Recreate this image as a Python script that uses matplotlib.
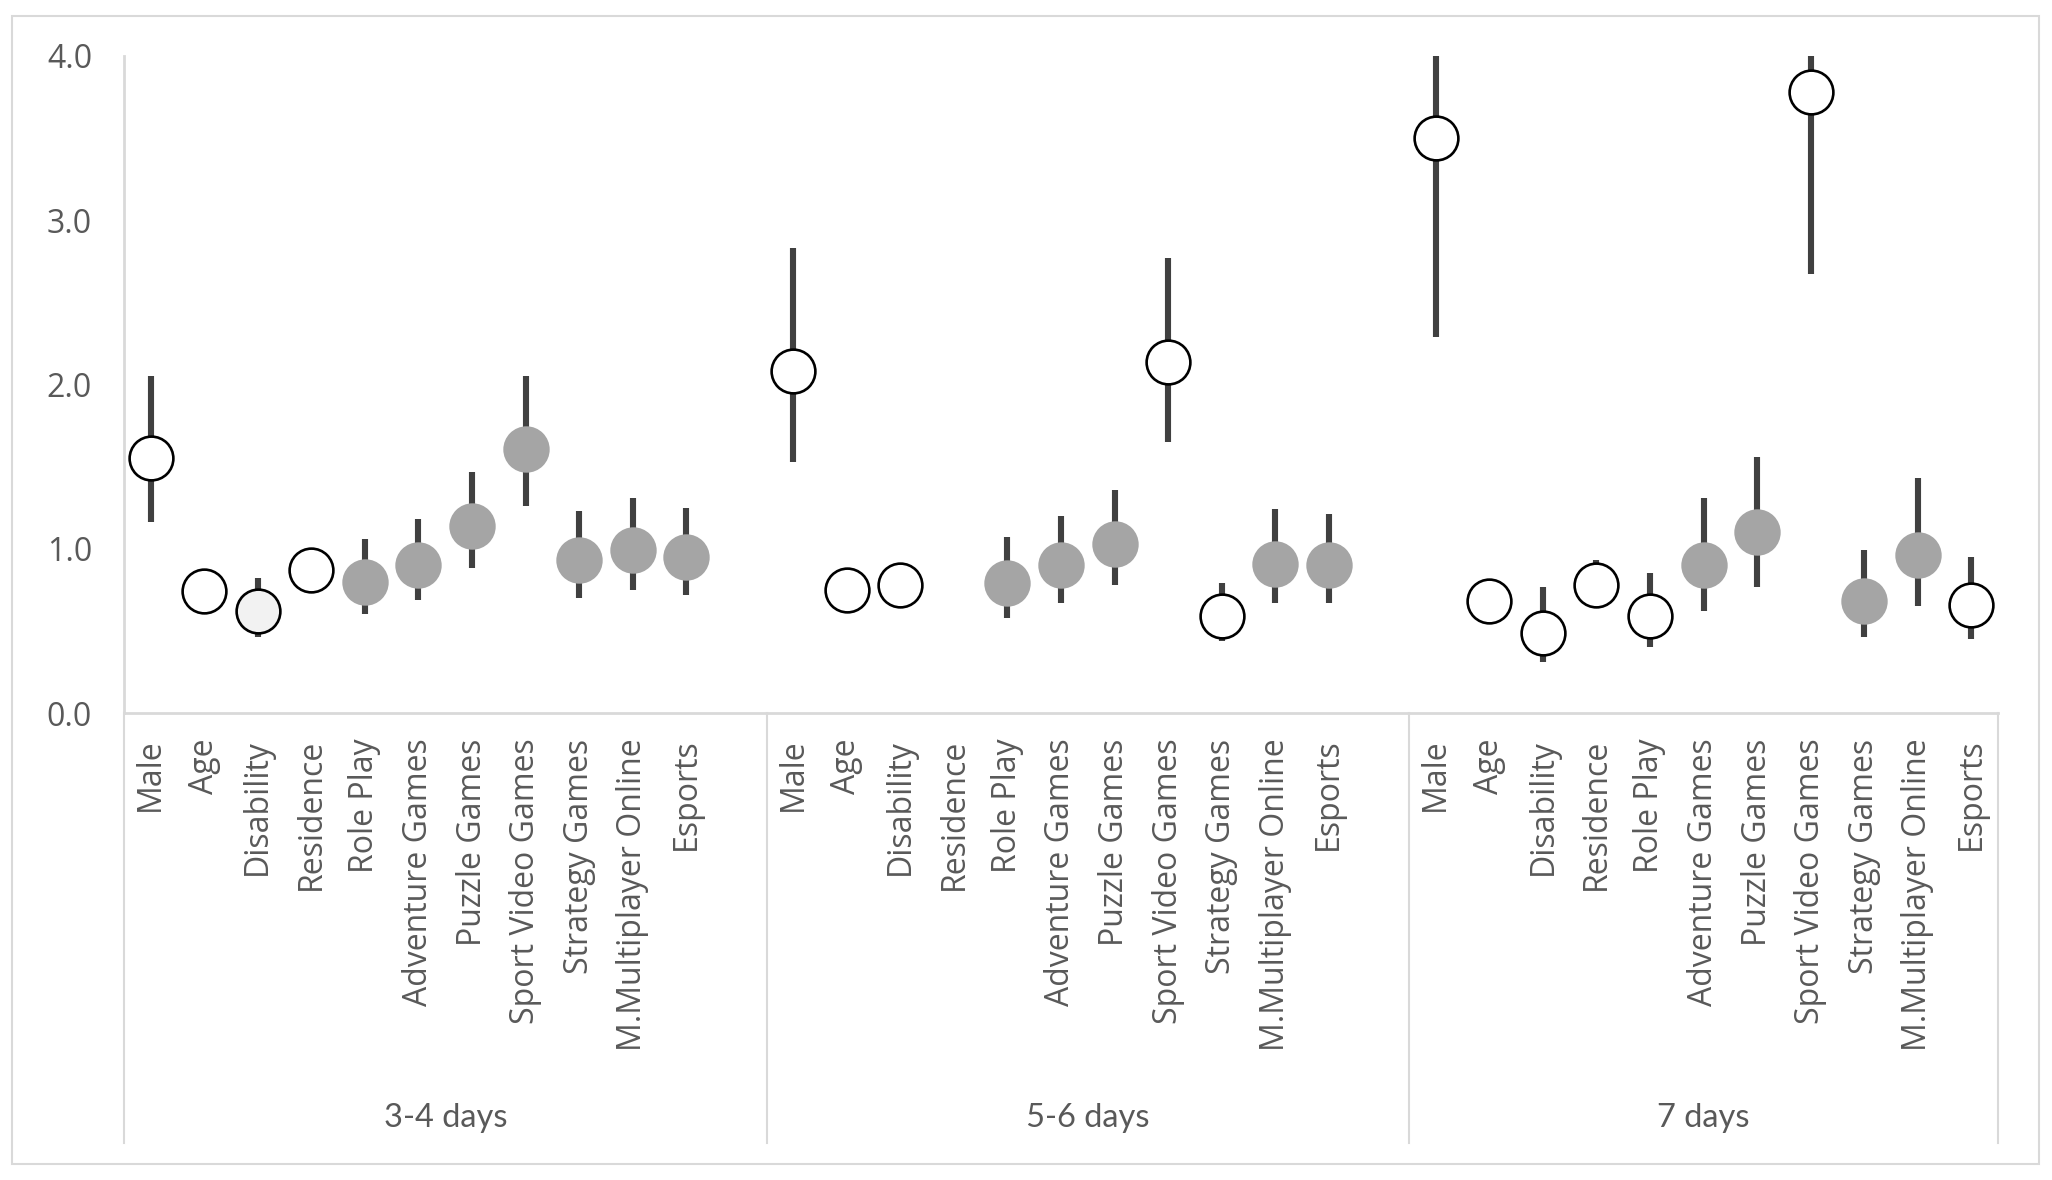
import numpy as np
import matplotlib
matplotlib.use('Agg')
import matplotlib.pyplot as plt
from matplotlib.patches import Rectangle

plt.rcParams['font.family'] = ['Open Sans', 'DejaVu Sans']

# categories and groups
variables = ['Male', 'Age', 'Disability', 'Residence', 'Role Play', 'Adventure Games',
             'Puzzle Games', 'Sport Video Games', 'Strategy Games',
             'M.Multiplayer Online', 'Esports']
groups = ['3-4 days', '5-6 days', '7 days']

# odds ratios (point) and 95% CI, per group
or_34 = [1.55, 0.74, 0.62, 0.87, 0.80, 0.90, 1.14, 1.61, 0.93, 0.99, 0.95]
lo_34 = [1.16, 0.69, 0.46, 0.80, 0.60, 0.69, 0.88, 1.26, 0.70, 0.75, 0.72]
hi_34 = [2.05, 0.80, 0.82, 0.94, 1.06, 1.18, 1.47, 2.05, 1.23, 1.31, 1.25]

or_56 = [2.08, 0.75, 0.78, np.nan, 0.79, 0.90, 1.03, 2.14, 0.59, 0.91, 0.90]
lo_56 = [1.53, 0.70, 0.70, np.nan, 0.58, 0.67, 0.78, 1.65, 0.44, 0.67, 0.67]
hi_56 = [2.83, 0.81, 0.87, np.nan, 1.07, 1.20, 1.36, 2.77, 0.79, 1.24, 1.21]

or_7 = [3.50, 0.68, 0.49, 0.78, 0.59, 0.90, 1.10, 3.78, 0.68, 0.96, 0.66]
lo_7 = [2.29, 0.62, 0.31, 0.70, 0.40, 0.62, 0.77, 2.67, 0.46, 0.65, 0.45]
hi_7 = [5.30, 0.81, 0.77, 0.93, 0.85, 1.31, 1.56, 5.30, 0.99, 1.43, 0.95]

# marker kind: 'open' white circle, 'light' pale circle, 'filled' grey disk
kind_34 = ['open', 'open', 'light', 'open', 'filled', 'filled', 'filled', 'filled', 'filled', 'filled', 'filled']
kind_56 = ['open', 'open', 'open', 'open', 'filled', 'filled', 'filled', 'open', 'open', 'filled', 'filled']
kind_7 = ['open', 'open', 'open', 'open', 'open', 'filled', 'filled', 'open', 'filled', 'filled', 'open']

ors = [or_34, or_56, or_7]
los = [lo_34, lo_56, lo_7]
his = [hi_34, hi_56, hi_7]
kinds = [kind_34, kind_56, kind_7]

W, H = 2052, 1180
fig = plt.figure(figsize=(W / 100, H / 100), dpi=100)
ax = fig.add_axes([124 / W, 1 - 713 / H, (1998 - 124) / W, (713 - 56) / H])

face = {'open': 'white', 'light': '#f2f2f2', 'filled': '#a5a5a5'}
edge = {'open': 'black', 'light': 'black', 'filled': '#a5a5a5'}

n = len(variables)
step = n + 1  # one blank slot after each group
tick_pos, tick_lab = [], []
for g in range(len(groups)):
    for i in range(n):
        x = g * step + i
        tick_pos.append(x)
        tick_lab.append(variables[i])
        y = ors[g][i]
        if np.isnan(y):
            continue
        ax.plot([x, x], [los[g][i], his[g][i]], color='#404040', lw=4.4,
                solid_capstyle='butt', zorder=2)
        k = kinds[g][i]
        ax.plot(x, y, 'o', ms=31.5, mfc=face[k], mec=edge[k], mew=1.9, zorder=3)

ax.set_xlim(-0.5, len(groups) * step - 1.5)
ax.set_ylim(0, 4)
ax.set_yticks([0, 1, 2, 3, 4])
ax.set_yticklabels([f'{v:.1f}' for v in [0, 1, 2, 3, 4]])
ax.set_xticks(tick_pos)
ax.set_xticklabels(tick_lab, rotation=90, va='top', ha='center')
ax.tick_params(axis='x', length=0, labelsize=23, labelcolor='#595959', pad=18.5)
ax.tick_params(axis='y', length=0, labelsize=23, labelcolor='#595959', pad=23)

for s in ['top', 'right']:
    ax.spines[s].set_visible(False)
for s in ['left', 'bottom']:
    ax.spines[s].set_color('#d9d9d9')
    ax.spines[s].set_linewidth(2)

# group separators and labels
trans = ax.get_xaxis_transform()
sep_bottom = -(1143 - 713) / (713 - 56)
for g in range(len(groups) + 1):
    xs = g * step - 0.5 if g < len(groups) else len(groups) * step - 1.5
    ax.plot([xs, xs], [0, sep_bottom], transform=trans, color='#d9d9d9',
            lw=1.5, clip_on=False)
for g, name in enumerate(groups):
    left = g * step - 0.5
    right = min((g + 1) * step - 0.5, len(groups) * step - 1.5)
    ax.text((left + right) / 2, -(1118 - 713) / (713 - 56), name,
            transform=trans, ha='center', va='center', fontsize=23.5,
            color='#595959', family=['Lato', 'DejaVu Sans'])

# outer chart border
fig.patches.append(Rectangle((12 / W, 16 / H), (2039 - 12) / W, (1164 - 16) / H,
                             transform=fig.transFigure, fill=False,
                             edgecolor='#d9d9d9', lw=1.5))

fig.savefig('out.png', dpi=100)
